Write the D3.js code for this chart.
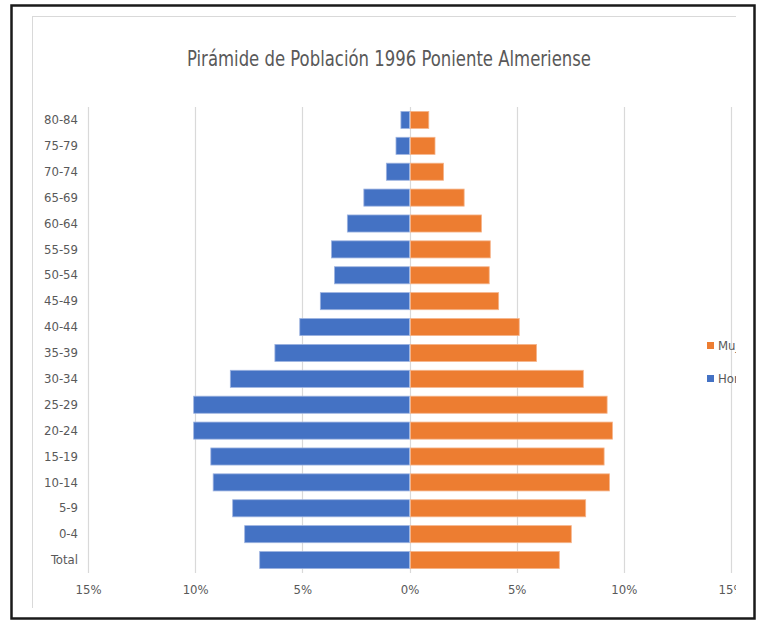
<!DOCTYPE html>
<html>
<head>
<meta charset="utf-8">
<script src="https://cdn.jsdelivr.net/npm/d3@7"></script>
<style>
  body { margin: 0; background: #fff; }
  text { font-family: "Liberation Sans Narrow", "DejaVu Sans Condensed", "Open Sans", sans-serif; }
</style>
</head>
<body>
<div id="chart"></div>
<script>
// age groups, top to bottom
var ageGroups = ["80-84", "75-79", "70-74", "65-69", "60-64", "55-59", "50-54", "45-49", "40-44",
    "35-39", "30-34", "25-29", "20-24", "15-19", "10-14", "5-9", "0-4", "Total"];
// percentage of population
var hombres = [0.40, 0.63, 1.08, 2.13, 2.90, 3.64, 3.50, 4.16, 5.12,
    6.28, 8.36, 10.07, 10.07, 9.27, 9.16, 8.25, 7.69, 6.99];
var mujeres = [0.90, 1.19, 1.59, 2.55, 3.36, 3.77, 3.72, 4.16, 5.12,
    5.93, 8.11, 9.22, 9.47, 9.08, 9.33, 8.22, 7.55, 6.99];
var tickValues = [-15, -10, -5, 0, 5, 10, 15];
var seriesNames = ["Mujeres", "Hombres"];
var colors = {Hombres: "#4472C4", Mujeres: "#ED7D31"};

var w = 765;
var h = 623;

var svg = d3.select("#chart")
    .append("svg")
    .attr("width", w)
    .attr("height", h);

// the chart image is cut off on the right
svg.append("clipPath")
    .attr("id", "cut")
    .append("rect")
    .attr("x", 0).attr("y", 0)
    .attr("width", 736).attr("height", h);

var g = svg.append("g").attr("clip-path", "url(#cut)");

// light chart border (left and top only, rest is cropped)
g.append("line")
    .attr("x1", 32.5).attr("x2", 32.5).attr("y1", 16).attr("y2", 608)
    .attr("stroke", "#d9d9d9");
g.append("line")
    .attr("x1", 32).attr("x2", 740).attr("y1", 16.5).attr("y2", 16.5)
    .attr("stroke", "#d9d9d9");

var x = d3.scaleLinear().domain([-15, 15]).range([88, 731]);
var y = d3.scaleBand().domain(ageGroups).range([107, 573])
    .paddingInner(0.34).paddingOuter(0.17);

// gridlines
g.selectAll(".grid")
    .data(tickValues)
    .enter()
    .append("line")
    .attr("class", "grid")
    .attr("x1", function (d) { return Math.round(x(d)) + 0.5; })
    .attr("x2", function (d) { return Math.round(x(d)) + 0.5; })
    .attr("y1", 107)
    .attr("y2", 573)
    .attr("stroke", "#d9d9d9")
    .attr("stroke-width", 1.2);

// bars
g.selectAll(".hom")
    .data(hombres)
    .enter()
    .append("rect")
    .attr("class", "hom")
    .attr("x", function (d) { return x(-d); })
    .attr("y", function (d, i) { return y(ageGroups[i]); })
    .attr("width", function (d) { return x(0) - x(-d); })
    .attr("height", y.bandwidth())
    .attr("fill", colors.Hombres)
    .attr("stroke", "#9db3e0")
    .attr("stroke-width", 0.8);

g.selectAll(".muj")
    .data(mujeres)
    .enter()
    .append("rect")
    .attr("class", "muj")
    .attr("x", x(0) + 1)
    .attr("y", function (d, i) { return y(ageGroups[i]); })
    .attr("width", function (d) { return x(d) - x(0) - 1; })
    .attr("height", y.bandwidth())
    .attr("fill", colors.Mujeres)
    .attr("stroke", "#f5b58c")
    .attr("stroke-width", 0.8);

// category axis
var yAxis = g.append("g")
    .attr("transform", "translate(78,0)")
    .call(d3.axisLeft(y).tickSize(0).tickPadding(0));
yAxis.select(".domain").remove();
yAxis.selectAll("text")
    .attr("fill", "#595959")
    .style("font-size", "13px");

// value axis
var xAxis = g.append("g")
    .attr("transform", "translate(0,585)")
    .call(d3.axisBottom(x).tickValues(tickValues).tickSize(0).tickPadding(0)
        .tickFormat(function (d) { return Math.abs(d) + "%"; }));
xAxis.select(".domain").remove();
xAxis.selectAll("text")
    .attr("fill", "#595959")
    .style("font-size", "13px");

// title
g.append("text")
    .attr("x", 389)
    .attr("y", 66)
    .attr("text-anchor", "middle")
    .attr("fill", "#595959")
    .attr("textLength", 404)
    .attr("lengthAdjust", "spacingAndGlyphs")
    .style("font-size", "21px")
    .text("Pirámide de Población 1996 Poniente Almeriense");

// legend
var legend = g.selectAll(".legend")
    .data(seriesNames)
    .enter()
    .append("g")
    .attr("class", "legend")
    .attr("transform", function (d, i) { return "translate(707," + (342 + i * 33) + ")"; });
legend.append("rect")
    .attr("width", 7)
    .attr("height", 7)
    .attr("fill", function (d) { return colors[d]; });
legend.append("text")
    .attr("x", 11)
    .attr("y", 8)
    .attr("fill", "#595959")
    .style("font-size", "13px")
    .text(function (d) { return d; });

// black frame around the picture
svg.append("rect")
    .attr("x", 11.5)
    .attr("y", 5.5)
    .attr("width", 743)
    .attr("height", 613)
    .attr("fill", "none")
    .attr("stroke", "#1a1a1a")
    .attr("stroke-width", 2.5);
</script>
</body>
</html>
